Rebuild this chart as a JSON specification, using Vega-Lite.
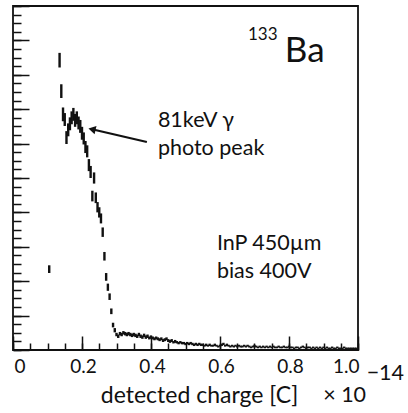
{
  "$schema": "https://vega.github.io/schema/vega-lite/v6.json",
  "width": 345,
  "height": 344,
  "autosize": {"type": "none"},
  "padding": {"left": 13, "top": 6, "right": 50, "bottom": 63},
  "background": "white",
  "config": {
    "font": "Lato",
    "view": {"stroke": "#111", "strokeWidth": 1.8},
    "axis": {"domain": false, "grid": false, "tickColor": "#111", "tickWidth": 1.5, "labelColor": "#111", "titleColor": "#111"}
  },
  "datasets": {
    "spec": [
      {"x":0.105,"y":9.4,"e":0.45},
      {"x":0.135,"y":33.7,"e":0.85},
      {"x":0.14,"y":30.1,"e":0.8},
      {"x":0.145,"y":27.4,"e":0.8},
      {"x":0.15,"y":26.8,"e":0.75},
      {"x":0.155,"y":24.7,"e":0.75},
      {"x":0.16,"y":25.6,"e":0.75},
      {"x":0.165,"y":26.3,"e":0.75},
      {"x":0.17,"y":27.0,"e":0.75},
      {"x":0.175,"y":27.4,"e":0.75},
      {"x":0.18,"y":26.7,"e":0.75},
      {"x":0.185,"y":27.0,"e":0.75},
      {"x":0.19,"y":26.4,"e":0.75},
      {"x":0.195,"y":26.0,"e":0.75},
      {"x":0.2,"y":25.2,"e":0.75},
      {"x":0.205,"y":24.6,"e":0.7},
      {"x":0.21,"y":23.6,"e":0.7},
      {"x":0.215,"y":23.1,"e":0.7},
      {"x":0.22,"y":21.5,"e":0.7},
      {"x":0.225,"y":20.7,"e":0.7},
      {"x":0.23,"y":17.9,"e":0.62},
      {"x":0.235,"y":20.0,"e":0.65},
      {"x":0.24,"y":17.7,"e":0.62},
      {"x":0.245,"y":16.6,"e":0.6},
      {"x":0.25,"y":16.0,"e":0.6},
      {"x":0.255,"y":15.3,"e":0.58},
      {"x":0.26,"y":13.7,"e":0.55},
      {"x":0.265,"y":10.9,"e":0.5},
      {"x":0.27,"y":8.5,"e":0.45},
      {"x":0.275,"y":7.3,"e":0.42},
      {"x":0.28,"y":6.2,"e":0.38},
      {"x":0.285,"y":4.5,"e":0.33},
      {"x":0.29,"y":2.9,"e":0.27},
      {"x":0.295,"y":2.3,"e":0.25},
      {"x":0.3,"y":1.8,"e":0.2},
      {"x":0.305,"y":1.6,"e":0.2},
      {"x":0.31,"y":1.9,"e":0.2},
      {"x":0.315,"y":1.8,"e":0.2},
      {"x":0.32,"y":2.0,"e":0.2},
      {"x":0.325,"y":1.9,"e":0.2},
      {"x":0.33,"y":1.8,"e":0.2},
      {"x":0.335,"y":1.9,"e":0.2},
      {"x":0.34,"y":1.8,"e":0.2},
      {"x":0.345,"y":1.7,"e":0.2},
      {"x":0.35,"y":1.8,"e":0.2},
      {"x":0.355,"y":1.7,"e":0.2},
      {"x":0.36,"y":1.6,"e":0.2},
      {"x":0.365,"y":1.8,"e":0.2},
      {"x":0.37,"y":1.6,"e":0.2},
      {"x":0.375,"y":1.5,"e":0.2},
      {"x":0.38,"y":1.7,"e":0.2},
      {"x":0.385,"y":1.5,"e":0.2},
      {"x":0.39,"y":1.6,"e":0.2},
      {"x":0.395,"y":1.4,"e":0.17},
      {"x":0.4,"y":1.5,"e":0.2},
      {"x":0.405,"y":1.4,"e":0.17},
      {"x":0.41,"y":1.3,"e":0.17},
      {"x":0.415,"y":1.4,"e":0.17},
      {"x":0.42,"y":1.3,"e":0.17},
      {"x":0.425,"y":1.2,"e":0.17},
      {"x":0.43,"y":1.3,"e":0.17},
      {"x":0.435,"y":1.1,"e":0.17},
      {"x":0.44,"y":1.2,"e":0.17},
      {"x":0.445,"y":1.3,"e":0.17},
      {"x":0.45,"y":1.1,"e":0.17},
      {"x":0.455,"y":1.0,"e":0.17},
      {"x":0.46,"y":1.1,"e":0.17},
      {"x":0.465,"y":0.9,"e":0.14},
      {"x":0.47,"y":1.0,"e":0.17},
      {"x":0.475,"y":0.9,"e":0.14},
      {"x":0.48,"y":0.8,"e":0.14},
      {"x":0.485,"y":0.9,"e":0.14},
      {"x":0.49,"y":0.8,"e":0.14},
      {"x":0.495,"y":0.8,"e":0.14},
      {"x":0.5,"y":0.7,"e":0.14},
      {"x":0.505,"y":0.8,"e":0.14},
      {"x":0.51,"y":0.7,"e":0.14},
      {"x":0.515,"y":0.8,"e":0.14},
      {"x":0.52,"y":0.7,"e":0.14},
      {"x":0.525,"y":0.6,"e":0.14},
      {"x":0.53,"y":0.7,"e":0.14},
      {"x":0.535,"y":0.6,"e":0.14},
      {"x":0.54,"y":0.7,"e":0.14},
      {"x":0.545,"y":0.6,"e":0.14},
      {"x":0.55,"y":0.6,"e":0.14},
      {"x":0.555,"y":0.5,"e":0.11},
      {"x":0.56,"y":0.6,"e":0.14},
      {"x":0.565,"y":0.5,"e":0.11},
      {"x":0.57,"y":0.6,"e":0.14},
      {"x":0.575,"y":0.5,"e":0.11},
      {"x":0.58,"y":0.5,"e":0.11},
      {"x":0.585,"y":0.6,"e":0.14},
      {"x":0.59,"y":0.5,"e":0.11},
      {"x":0.595,"y":0.4,"e":0.11},
      {"x":0.6,"y":0.5,"e":0.11},
      {"x":0.605,"y":0.6,"e":0.14},
      {"x":0.61,"y":0.7,"e":0.14},
      {"x":0.615,"y":0.5,"e":0.11},
      {"x":0.62,"y":0.6,"e":0.14},
      {"x":0.625,"y":0.5,"e":0.11},
      {"x":0.63,"y":0.4,"e":0.11},
      {"x":0.635,"y":0.5,"e":0.11},
      {"x":0.64,"y":0.4,"e":0.11},
      {"x":0.645,"y":0.5,"e":0.11},
      {"x":0.65,"y":0.4,"e":0.11},
      {"x":0.655,"y":0.5,"e":0.11},
      {"x":0.66,"y":0.4,"e":0.11},
      {"x":0.665,"y":0.4,"e":0.11},
      {"x":0.67,"y":0.5,"e":0.11},
      {"x":0.675,"y":0.4,"e":0.11},
      {"x":0.68,"y":0.5,"e":0.11},
      {"x":0.685,"y":0.4,"e":0.11},
      {"x":0.69,"y":0.3,"e":0.1},
      {"x":0.695,"y":0.4,"e":0.11},
      {"x":0.7,"y":0.5,"e":0.11},
      {"x":0.705,"y":0.4,"e":0.11},
      {"x":0.71,"y":0.3,"e":0.1},
      {"x":0.715,"y":0.4,"e":0.11},
      {"x":0.72,"y":0.3,"e":0.1},
      {"x":0.725,"y":0.4,"e":0.11},
      {"x":0.73,"y":0.3,"e":0.1},
      {"x":0.735,"y":0.4,"e":0.11},
      {"x":0.74,"y":0.3,"e":0.1},
      {"x":0.745,"y":0.4,"e":0.11},
      {"x":0.75,"y":0.3,"e":0.1},
      {"x":0.755,"y":0.4,"e":0.11},
      {"x":0.76,"y":0.3,"e":0.1},
      {"x":0.765,"y":0.3,"e":0.1},
      {"x":0.77,"y":0.4,"e":0.11},
      {"x":0.775,"y":0.3,"e":0.1},
      {"x":0.78,"y":0.3,"e":0.1},
      {"x":0.785,"y":0.4,"e":0.11},
      {"x":0.79,"y":0.3,"e":0.1},
      {"x":0.795,"y":0.3,"e":0.1},
      {"x":0.8,"y":0.4,"e":0.11},
      {"x":0.805,"y":0.3,"e":0.1},
      {"x":0.81,"y":0.3,"e":0.1},
      {"x":0.815,"y":0.2,"e":0.08},
      {"x":0.82,"y":0.3,"e":0.1},
      {"x":0.825,"y":0.3,"e":0.1},
      {"x":0.83,"y":0.2,"e":0.08},
      {"x":0.835,"y":0.3,"e":0.1},
      {"x":0.84,"y":0.4,"e":0.11},
      {"x":0.845,"y":0.3,"e":0.1},
      {"x":0.85,"y":0.2,"e":0.08},
      {"x":0.855,"y":0.3,"e":0.1},
      {"x":0.86,"y":0.3,"e":0.1},
      {"x":0.865,"y":0.2,"e":0.08},
      {"x":0.87,"y":0.3,"e":0.1},
      {"x":0.875,"y":0.2,"e":0.08},
      {"x":0.88,"y":0.3,"e":0.1},
      {"x":0.885,"y":0.2,"e":0.08},
      {"x":0.89,"y":0.3,"e":0.1},
      {"x":0.895,"y":0.2,"e":0.08},
      {"x":0.9,"y":0.3,"e":0.1},
      {"x":0.905,"y":0.2,"e":0.08},
      {"x":0.91,"y":0.3,"e":0.1},
      {"x":0.915,"y":0.2,"e":0.08},
      {"x":0.92,"y":0.2,"e":0.08},
      {"x":0.925,"y":0.3,"e":0.1},
      {"x":0.93,"y":0.2,"e":0.08},
      {"x":0.935,"y":0.2,"e":0.08},
      {"x":0.94,"y":0.3,"e":0.1},
      {"x":0.945,"y":0.2,"e":0.08},
      {"x":0.95,"y":0.2,"e":0.08},
      {"x":0.955,"y":0.2,"e":0.08},
      {"x":0.96,"y":0.3,"e":0.1},
      {"x":0.965,"y":0.2,"e":0.08},
      {"x":0.97,"y":0.2,"e":0.08},
      {"x":0.975,"y":0.2,"e":0.08},
      {"x":0.98,"y":0.2,"e":0.08},
      {"x":0.985,"y":0.2,"e":0.08},
      {"x":0.99,"y":0.2,"e":0.08},
      {"x":0.995,"y":0.2,"e":0.08}
    ],
    "notes": [
      {"x":0.42,"y":25.93,"t":"81keV γ"},
      {"x":0.42,"y":22.67,"t":"photo peak"},
      {"x":0.591,"y":11.63,"t":"InP 450µm"},
      {"x":0.591,"y":8.37,"t":"bias 400V"},
      {"x":0.899,"y":-6.05,"t":"× 10"},
      {"x":1.025,"y":-3.49,"t":"−14"}
    ],
    "iso": [{"x":0.681,"y":36.05,"t":"133"}],
    "elem": [{"x":0.788,"y":33.49,"t":"Ba"}],
    "arrow": [{"x":0.388,"y":24.19,"x2":0.229,"y2":25.67}]
  },
  "resolve": {"axis": {"x": "independent", "y": "independent"}},
  "layer": [
    {
      "data": {"name": "spec"},
      "mark": {"type": "errorbar", "color": "#111", "thickness": 2.4},
      "encoding": {
        "x": {"field": "x", "type": "quantitative",
          "scale": {"domain": [0, 1], "nice": false, "zero": false},
          "axis": {"orient": "bottom", "values": [0, 0.2, 0.4, 0.6, 0.8, 1], "tickSize": -14, "labelPadding": 21,
            "labelFontSize": 19, "labelFlush": true, "labelOverlap": false, "labelOffset": 1,
            "labelExpr": "datum.value == 0 ? '0' : format(datum.value, '.1f')",
            "title": "detected charge [C]", "titleFontSize": 23, "titleFontWeight": "normal",
            "titleX": 186, "titleY": 52, "titleAlign": "center", "titleBaseline": "alphabetic"}},
        "y": {"field": "y", "type": "quantitative",
          "scale": {"domain": [0, 40], "nice": false},
          "axis": {"orient": "left", "values": [0, 4, 8, 12, 16, 20, 24, 28, 32, 36, 40], "tickSize": -16, "labels": false, "title": null}},
        "yError": {"field": "e"}
      }
    },
    {
      "data": {"name": "spec"},
      "mark": {"type": "point", "opacity": 0},
      "encoding": {
        "x": {"field": "x", "type": "quantitative",
          "axis": {"orient": "bottom", "values": [0,0.05,0.1,0.15,0.2,0.25,0.3,0.35,0.4,0.45,0.5,0.55,0.6,0.65,0.7,0.75,0.8,0.85,0.9,0.95,1], "tickSize": -7, "labels": false, "title": null}},
        "y": {"field": "y", "type": "quantitative",
          "axis": {"orient": "left", "values": [0,1,2,3,4,5,6,7,8,9,10,11,12,13,14,15,16,17,18,19,20,21,22,23,24,25,26,27,28,29,30,31,32,33,34,35,36,37,38,39,40], "tickSize": -8, "labels": false, "title": null}}
      }
    },
    {
      "data": {"name": "arrow"},
      "mark": {"type": "rule", "color": "#111", "strokeWidth": 2.2},
      "encoding": {
        "x": {"field": "x", "type": "quantitative", "axis": null},
        "y": {"field": "y", "type": "quantitative", "axis": null},
        "x2": {"field": "x2"},
        "y2": {"field": "y2"}
      }
    },
    {
      "data": {"name": "arrow"},
      "mark": {"type": "point", "shape": "triangle-left", "filled": true, "color": "#111", "opacity": 1, "size": 70, "angle": 13},
      "encoding": {
        "x": {"field": "x2", "type": "quantitative", "axis": null},
        "y": {"field": "y2", "type": "quantitative", "axis": null}
      }
    },
    {
      "data": {"name": "notes"},
      "mark": {"type": "text", "align": "left", "baseline": "alphabetic", "fontSize": 21.5, "color": "#111"},
      "encoding": {
        "x": {"field": "x", "type": "quantitative", "axis": null},
        "y": {"field": "y", "type": "quantitative", "axis": null},
        "text": {"field": "t"}
      }
    },
    {
      "data": {"name": "iso"},
      "mark": {"type": "text", "align": "left", "baseline": "alphabetic", "fontSize": 17, "color": "#111"},
      "encoding": {
        "x": {"field": "x", "type": "quantitative", "axis": null},
        "y": {"field": "y", "type": "quantitative", "axis": null},
        "text": {"field": "t"}
      }
    },
    {
      "data": {"name": "elem"},
      "mark": {"type": "text", "align": "left", "baseline": "alphabetic", "fontSize": 35, "color": "#111"},
      "encoding": {
        "x": {"field": "x", "type": "quantitative", "axis": null},
        "y": {"field": "y", "type": "quantitative", "axis": null},
        "text": {"field": "t"}
      }
    }
  ]
}
